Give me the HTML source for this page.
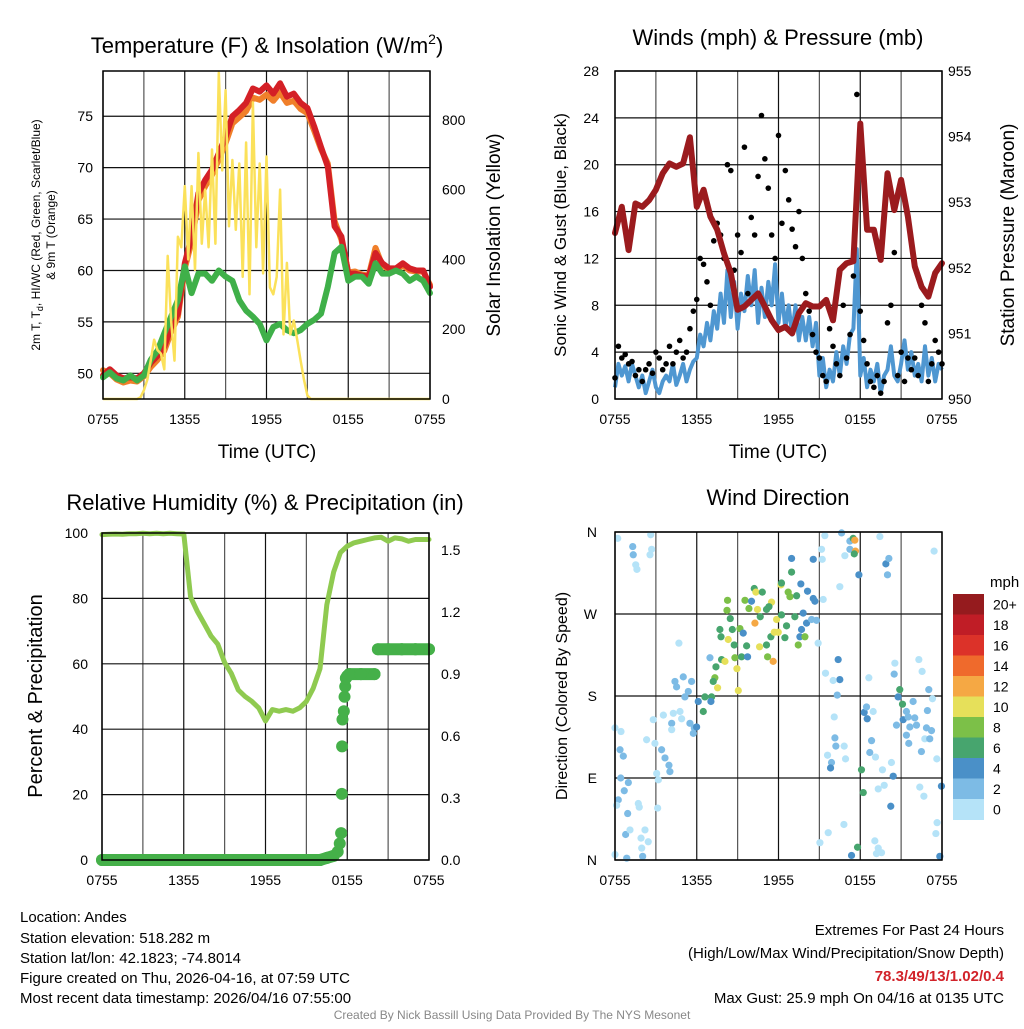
<!DOCTYPE html>
<html><head><meta charset="utf-8">
<style>
body{margin:0;background:#fff;}
svg text{font-family:"Liberation Sans",Arial,sans-serif;fill:#000;}
</style></head>
<body>
<svg id="root" xmlns="http://www.w3.org/2000/svg" width="1024" height="1024" viewBox="0 0 1024 1024">
<rect x="0" y="0" width="1024" height="1024" fill="#fff"/>
<text x="267" y="53" font-size="22" text-anchor="middle">Temperature (F) &amp; Insolation (W/m<tspan dy="-9" font-size="14">2</tspan><tspan dy="9">)</tspan></text>
<text x="778" y="45" font-size="22" text-anchor="middle">Winds (mph) &amp; Pressure (mb)</text>
<text x="265" y="510" font-size="22" text-anchor="middle">Relative Humidity (%) &amp; Precipitation (in)</text>
<text x="778" y="505" font-size="22" text-anchor="middle">Wind Direction</text>

<text transform="translate(40,235) rotate(-90)" font-size="12" text-anchor="middle">2m T, T<tspan dy="3" font-size="9">d</tspan><tspan dy="-3">, HI/WC (Red, Green, Scarlet/Blue)</tspan></text>
<text transform="translate(55,235) rotate(-90)" font-size="12" text-anchor="middle">&amp; 9m T (Orange)</text>
<text transform="translate(500,235) rotate(-90)" font-size="19" text-anchor="middle">Solar Insolation (Yellow)</text>
<text transform="translate(566,235) rotate(-90)" font-size="17" text-anchor="middle">Sonic Wind &amp; Gust (Blue, Black)</text>
<text transform="translate(1014,235) rotate(-90)" font-size="19" text-anchor="middle">Station Pressure (Maroon)</text>
<text transform="translate(42,696) rotate(-90)" font-size="20" text-anchor="middle">Percent &amp; Precipitation</text>
<text transform="translate(567,696) rotate(-90)" font-size="16" text-anchor="middle">Direction (Colored By Speed)</text>
<text x="267" y="458" font-size="19" text-anchor="middle">Time (UTC)</text>
<text x="778" y="458" font-size="19" text-anchor="middle">Time (UTC)</text>

<g font-size="15">
<text x="20" y="922">Location: Andes</text>
<text x="20" y="943">Station elevation: 518.282 m</text>
<text x="20" y="963">Station lat/lon: 42.1823; -74.8014</text>
<text x="20" y="983">Figure created on Thu, 2026-04-16, at 07:59 UTC</text>
<text x="20" y="1003">Most recent data timestamp: 2026/04/16 07:55:00</text>
</g>
<g font-size="15" text-anchor="end">
<text x="1004" y="935">Extremes For Past 24 Hours</text>
<text x="1004" y="958">(High/Low/Max Wind/Precipitation/Snow Depth)</text>
<text x="1004" y="981" font-weight="bold" style="fill:#d2232a">78.3/49/13/1.02/0.4</text>
<text x="1004" y="1003">Max Gust: 25.9 mph On 04/16 at 0135 UTC</text>
</g>
<text x="512" y="1019" font-size="12" text-anchor="middle" style="fill:#888">Created By Nick Bassill Using Data Provided By The NYS Mesonet</text>
<text x="990" y="587" font-size="15">mph</text>
</svg>
<script>
// ---------- data ----------
const xTickLabels = ["0755","1355","1955","0155","0755"];
// Temperature panel, 30-min samples (hours 0..24)
const tempRed = [49.8,50.4,49.8,49.5,49.6,49.5,50,51,51.7,52.6,54.5,55.8,60.7,63.3,67.5,68.8,69.8,71.4,73,75,75.6,76.3,77.7,77.4,78,77.2,78.2,76.9,77.2,76.3,75.8,74,72,70.1,64.3,63.3,59.7,59.7,59.5,59.4,61.7,60.7,60.2,60.2,60.7,60.2,60,60,58.4];
const tempOrange = [50.3,50.0,49.4,49.1,49.3,49.2,49.7,50.6,51.3,52.2,54.0,55.5,60.2,62.8,66.8,68.2,69.3,70.8,72.4,74.3,74.9,75.5,76.8,76.6,77.1,76.5,77.3,76.3,76.5,75.7,75.3,73.6,71.8,70.4,64.8,63.0,59.8,59.9,59.6,59.5,62.2,60.5,60.1,60.0,60.5,60.0,59.9,59.9,58.6];
const dewGreen = [49.6,50.1,49.5,49.3,49.8,49.3,49.8,51.3,52.2,53.9,55.5,57.1,60.4,57.8,59.7,59.7,59,60,59.4,59,57.1,56.1,55.5,54.8,53.2,54.5,54.8,54.2,53.9,54.2,54.8,55.2,55.8,58.4,61.7,62.3,59,59.4,59.4,58.7,60.7,59.7,59.7,60,59.7,59,59.4,59,57.8];
// Solar, 15-min samples (hours 0..24)
const solar = [0,0,0,0,0,0,0,0,0,0,0,5,25,55,110,170,140,130,85,410,225,110,465,435,610,400,610,370,705,445,600,435,715,445,935,655,885,495,685,485,675,350,735,300,850,435,675,360,695,320,300,350,600,185,390,185,225,170,110,55,10,0,0,0,0,0,0,0,0,0,0,0,0,0,0,0,0,0,0,0,0,0,0,0,0,0,0,0,0,0,0,0,0,0,0,0,0];
const tempTicks = [50,55,60,65,70,75];
const solarTicks = [0,200,400,600,800];
// Wind panel, 15-min samples
const windSonic = [1.0,3.0,2.0,2.8,1.5,3.0,2.0,1.0,2.0,0.5,1.5,2.5,1.0,0.5,1.5,2.0,1.5,3.0,1.2,2.0,3.0,1.5,2.5,3.2,3.5,5.5,4.5,6.5,5.0,7.5,6.0,9.0,6.5,11.0,7.0,10.0,6.0,9.0,7.5,10.5,8.0,11.0,6.5,9.5,7.0,10.0,8.0,11.5,6.5,9.0,6.0,8.0,5.5,8.0,5.0,7.0,5.0,7.0,4.5,6.5,2.0,3.5,1.0,2.5,1.5,4.0,2.0,4.5,3.0,5.5,6.0,12.8,2.0,3.5,1.0,2.5,1.5,3.0,0.5,2.0,2.5,4.5,2.0,1.5,3.0,5.0,2.5,4.0,2.0,3.0,1.5,4.5,2.0,3.5,1.5,3.0,2.5];
const windGust = [1.8,4.5,3.5,3.8,3.0,3.2,2.0,2.5,1.5,2.5,3.0,2.2,4.0,3.5,2.5,3.0,4.5,3.0,4.0,5.0,3.5,4.0,6.0,7.5,8.5,12.0,11.5,10.0,8.0,13.5,15.0,14.0,12.0,20.0,19.5,11.0,14.0,12.5,21.5,9.0,15.5,14.0,19.0,24.2,20.5,18.0,14.0,12.0,22.5,15.0,19.5,17.0,14.5,13.0,16.0,12.0,9.0,7.5,5.5,4.0,3.5,2.0,1.5,6.0,4.5,3.0,2.0,8.0,3.5,5.5,10.5,26.0,7.5,5.0,3.0,1.5,1.0,2.0,0.5,1.5,6.5,8.0,12.5,2.0,4.0,1.5,3.5,2.5,3.5,2.0,8.0,6.5,1.5,3.0,5.0,4.0,3.0];
// Pressure, 30-min samples
const pressure = [952.53,952.93,952.27,952.98,952.93,953.03,953.19,953.44,953.59,953.54,953.59,953.99,952.93,953.19,952.78,952.58,952.22,951.92,951.36,951.41,951.51,951.61,951.41,951.20,951.05,951.10,951.00,951.31,951.46,951.41,951.41,951.51,951.20,951.97,952.07,952.10,954.20,952.58,952.58,952.12,953.44,952.88,953.34,952.78,952.02,951.71,951.56,951.92,952.07];
const windTicks = [0,4,8,12,16,20,24,28];
const pressTicks = [950,951,952,953,954,955];
// Humidity, 30-min samples
const rh = [99.5,99.6,99.7,99.6,99.8,99.8,99.9,99.8,99.9,99.8,99.9,99.8,99.7,80.4,76,72.3,68.5,66,60.4,57,52,50,48.5,46.5,42.5,46,45.5,46,45.5,46.5,48.5,52.5,58.5,78,88,94,96,97,97.5,98,98.5,98.7,97.5,98.5,98.2,97.5,98,98,98];
// Precip accumulation (hours, inches)
const precipTimes = [0,2,4,6,8,10,12,14,16,16.5,17,17.3,17.45,17.55,17.6,17.62,17.65,17.75,17.8,17.85,17.9,18.0,18.15,19,20.0,20.25,21,22,23,24];
const precipVals = [0,0,0,0,0,0,0,0,0,0.01,0.02,0.04,0.08,0.13,0.32,0.55,0.68,0.72,0.79,0.84,0.88,0.89,0.9,0.9,0.9,1.02,1.02,1.02,1.02,1.02];
const rhTicks = [0,20,40,60,80,100];
const precipTicks = ["0.0","0.3","0.6","0.9","1.2","1.5"];
// Wind direction scatter (hours, degrees, mph)
const dirTimes = [0.2,1.3,1.34,2.57,2.69,2.62,1.52,1.61,0,0.44,0.37,0.61,0.42,0.98,0.68,0.24,0.12,0.93,1.71,1.78,0.78,1.1,2.2,1.91,2.44,1.96,2.03,0.86,0,3.06,3.18,3.13,2.81,2.32,2.93,3.42,3.67,3.96,4.03,3.55,4.28,4.16,4.16,4.77,4.89,5.5,5.82,5.75,
4.69,4.4,5.01,4.52,5.13,5.62,5.38,6.11,6.6,7.09,6.48,7.04,5.99,6.97,7.41,7.82,8.07,7.33,7.21,7.53,7.7,7.78,8.31,8.61,8.75,9.17,8.8,9.29,8.95,9.05,9.41,9.66,9.73,8.26,8.22,8.46,9.54,9.83,10.02,10.22,10.34,10.81,10.46,10.66,10.27,11.12,11.49,11.3,10.61,11.12,11.2,11.61,11.44,11.69,11.98,12.47,11.86,12.22,12.59,12.18,12.22,12.71,12.84,13.33,12.96,12.96,13.64,14.13,14.55,14.67,14.55,13.81,14.06,13.69,13.57,13.94,13.45,13.2,14.43,14.79,15.28,14.91,
15.4,15.16,15.21,16.63,17.24,17.24,17.48,17.6,17.65,17.56,16.87,17.9,16.5,19.88,20.1,20.0,19.44,23.42,16.38,16.5,16.01,15.45,16.31,18.63,16.09,16.14,16.21,16.82,15.6,15.89,15.82,16.92,18.29,18.46,18.51,18.95,18.83,18.7,19.12,18.09,18.22,19.63,20.29,19.32,19.76,20.24,20.42,20.54,20.49,20.9,20.78,21.1,21.39,21.15,21.52,20.66,21.88,22.3,22.54,23.03,23.3,22.93,22.0,22.13,21.64,21.39,21.56,22.49,22.86,23.23,22.74,23.1,23.62,22.37,22.67,23.96,23.64,23.55,23.84,15.65,15.04,16.8,17.8,17.36,19.07,19.32,19.56,19.19];
const dirDegrees = [353,344,335,335,341,357,324,319,145,141,121,114,90,85,76,66,60,51,62,58,28,33,33,24,20,13,4,2,6,95,88,57,154,132,128,121,112,104,97,159,161,150,143,163,155,150,145,139,
238,196,201,190,179,196,185,174,179,179,163,174,146,222,212,220,218,200,196,189,253,245,242,253,236,254,222,223,210,186,249,235,223,285,274,265,285,276,284,298,294,294,275,267,260,275,283,278,234,236,223,218,245,250,250,244,264,269,257,302,304,294,289,290,316,331,303,295,287,284,330,271,260,253,245,245,236,267,264,263,286,238,
356,341,330,359,350,341,353,351,339,336,334,313,300,325,331,313,355,339,220,198,197,205,181,200,157,134,125,125,115,107,101,111,162,168,155,163,131,118,113,99,74,99,107,78,82,59,92,216,204,187,179,171,163,154,157,148,174,220,207,187,177,164,156,148,146,137,128,119,145,142,133,133,111,80,70,81,41,29,4,30,19,39,14,5,21,13,8,7];
const dirSpeeds = [1,3,3,1,1,1,1,1,1,1,3,3,3,3,3,3,1,3,1,1,3,1,1,1,1,1,3,3,1,1,1,1,1,1,1,3,3,3,3,1,1,3,1,1,1,3,3,3,
1,3,3,3,3,3,3,5,7,7,7,5,5,3,7,7,11,9,7,11,7,7,11,7,7,9,9,7,11,11,5,7,5,9,9,7,9,9,5,7,11,7,11,7,13,7,11,7,11,7,9,13,7,11,11,7,11,7,7,11,7,9,9,7,7,5,5,5,5,5,5,5,5,5,5,9,9,7,3,3,1,1,
1,1,1,3,3,3,7,13,13,7,1,5,1,5,3,3,1,1,5,5,1,1,3,1,1,3,3,1,1,3,5,1,5,3,5,1,3,3,1,7,7,1,1,1,1,5,5,1,3,7,5,7,3,5,3,3,3,1,1,3,1,3,3,3,3,3,3,3,3,3,1,3,1,1,1,5,1,1,5,1,1,1,7,5,1,1,1,1];
const cbLabels = ["20+","18","16","14","12","10","8","6","4","2","0"];
const cbColors = ["#951b1e","#c01d26","#dc3229","#ef6a2c","#f5a844","#e6e05a","#7cc048","#47a56e","#4a90c8","#7dbbe5","#b5e3f8"];

// ---------- helpers ----------
const NS="http://www.w3.org/2000/svg";
const root=document.getElementById('root');
function mk(tag,attrs,parent){const e=document.createElementNS(NS,tag);for(const k in attrs)e.setAttribute(k,attrs[k]);(parent||root).appendChild(e);return e;}
function lin(d0,d1,r0,r1){return v=>r0+(v-d0)/(d1-d0)*(r1-r0);}
function speedColor(s){const i=Math.min(10,Math.floor(s/2));return cbColors[10-i];}

const P1={l:103,r:430,t:71,b:399}, P2={l:615,r:942,t:71,b:399}, P3={l:102,r:429,t:533,b:860}, P4={l:615,r:942,t:532,b:860};

function frame(P,name,hLines){
  const g=mk('g',{});
  
  
  for(let h=0;h<=24;h+=3){const x=P.l+(P.r-P.l)*h/24;const ln=mk('line',{x1:x,x2:x,y1:P.t,y2:P.b,stroke:(h%6==0)?'#111':'#555','stroke-width':1.2},g);}
  hLines.forEach(y=>{mk('line',{x1:P.l,x2:P.r,y1:y,y2:y,stroke:'#111','stroke-width':1.2},g);});
  const xs=lin(0,24,P.l,P.r);
  xTickLabels.forEach((lab,i)=>{const t=mk('text',{x:xs(i*6),y:P.b+25,'font-size':14,'text-anchor':'middle'});t.textContent=lab;
    
    });
  return g;
}
function border(P,name){const r=mk('rect',{x:P.l,y:P.t,width:P.r-P.l,height:P.b-P.t,fill:'none',stroke:'#000','stroke-width':1.5});
  
  }
function ticksLabels(vals,ys,x,anchor,name){vals.forEach((v,i)=>{const t=mk('text',{x:x,y:ys(v)+5,'font-size':14,'text-anchor':anchor});t.textContent=v;
  
  });}
function pathFrom(xs,ys,arr,step){return arr.map((v,i)=>(i?'L':'M')+xs(i*step).toFixed(1)+','+ys(v).toFixed(1)).join('');}

// ---------- Panel 1 ----------
{
  const P=P1, xs=lin(0,24,P.l,P.r), ty=lin(47.5,79.4,P.b,P.t), sy=lin(0,940,P.b,P.t);
  frame(P,'temperature',tempTicks.map(ty));
  ticksLabels(tempTicks,ty,P.l-10,'end','temperature-tick-label');
  ticksLabels(solarTicks,sy,P.r+12,'start','solar-tick-label');
  let p=mk('path',{d:pathFrom(xs,ty,tempOrange,0.5),fill:'none',stroke:'#f07f2a','stroke-width':6,'stroke-linejoin':'round','stroke-linecap':'round'});
  
  
  p=mk('path',{d:pathFrom(xs,ty,tempRed,0.5),fill:'none',stroke:'#d42026','stroke-width':6,'stroke-linejoin':'round','stroke-linecap':'round'});
  
  
  p=mk('path',{d:pathFrom(xs,ty,dewGreen,0.5),fill:'none',stroke:'#3fb049','stroke-width':6,'stroke-linejoin':'round','stroke-linecap':'round'});
  
  
  p=mk('path',{d:pathFrom(xs,sy,solar,0.25),fill:'none',stroke:'#fbe15a','stroke-width':2.5,'stroke-linejoin':'round'});
  
  
  border(P,'temperature');
}
// ---------- Panel 2 ----------
{
  const P=P2, xs=lin(0,24,P.l,P.r), wy=lin(0,28,P.b,P.t), py=lin(950,955,P.b,P.t);
  frame(P,'wind',windTicks.map(wy));
  ticksLabels(windTicks,wy,P.l-16,'end','wind-tick-label');
  ticksLabels(pressTicks,py,P.r+6,'start','pressure-tick-label');
  let p=mk('path',{d:pathFrom(xs,wy,windSonic,0.25),fill:'none',stroke:'#4f97d1','stroke-width':4,'stroke-linejoin':'round'});
  
  
  windGust.forEach((v,i)=>{const c=mk('circle',{cx:xs(i*0.25),cy:wy(v),r:2.8,fill:'#000'});
    
    });
  p=mk('path',{d:pathFrom(xs,py,pressure,0.5),fill:'none',stroke:'#9b1b1e','stroke-width':6,'stroke-linejoin':'round','stroke-linecap':'round'});
  
  
  border(P,'wind');
}
// ---------- Panel 3 ----------
{
  const P=P3, xs=lin(0,24,P.l,P.r), ry=lin(0,100,P.b,P.t), qy=lin(0,1.583,P.b,P.t);
  frame(P,'humidity',rhTicks.map(ry));
  ticksLabels(rhTicks,ry,P.l-14,'end','humidity-tick-label');
  ticksLabels(precipTicks,v=>qy(parseFloat(v)),P.r+12,'start','precip-tick-label');
  let p=mk('path',{d:pathFrom(xs,ry,rh,0.5),fill:'none',stroke:'#8fca50','stroke-width':5,'stroke-linejoin':'round','stroke-linecap':'round'});
  
  
  for(let i=1;i<precipVals.length;i++){ if(precipVals[i]===precipVals[i-1] || Math.abs(precipVals[i]-precipVals[i-1])<0.015){
    const s=mk('line',{x1:xs(precipTimes[i-1]),y1:qy(precipVals[i-1]),x2:xs(precipTimes[i]),y2:qy(precipVals[i]),stroke:'#45b049','stroke-width':12,'stroke-linecap':'round'});
    
    }
    else if(precipVals[i-1]<0.9 && precipVals[i]>1){
    const s=mk('line',{x1:xs(precipTimes[i-1]),y1:qy(precipVals[i-1]),x2:xs(precipTimes[i]),y2:qy(precipVals[i]),stroke:'#45b049','stroke-width':12,'stroke-linecap':'round'});
    
    }
  }
  precipVals.forEach((v,i)=>{const c=mk('circle',{cx:xs(precipTimes[i]),cy:qy(v),r:6,fill:'#45b049'});
    
    });
  border(P,'humidity');
}
// ---------- Panel 4 ----------
{
  const P=P4, xs=lin(0,24,P.l,P.r), dy=lin(0,360,P.b,P.t);
  frame(P,'direction',[0,90,180,270,360].map(dy));
  ["N","E","S","W","N"].forEach((lab,i)=>{const t=mk('text',{x:P.l-18,y:dy(i*90)+5,'font-size':14,'text-anchor':'end'});t.textContent=lab;
    
    });
  dirTimes.forEach((t,i)=>{const c=mk('circle',{cx:xs(t),cy:dy(dirDegrees[i]),r:3.6,fill:speedColor(dirSpeeds[i])});
    
    });
  border(P,'direction');
  const cbTop=594, cbH=20.5;
  cbColors.forEach((col,i)=>{const r=mk('rect',{x:953,y:cbTop+i*cbH,width:31,height:cbH+0.5,fill:col});
    
    
    const t=mk('text',{x:993,y:cbTop+i*cbH+cbH/2+5,'font-size':14});t.textContent=cbLabels[i];
    
    });
}
</script>
</body></html>
